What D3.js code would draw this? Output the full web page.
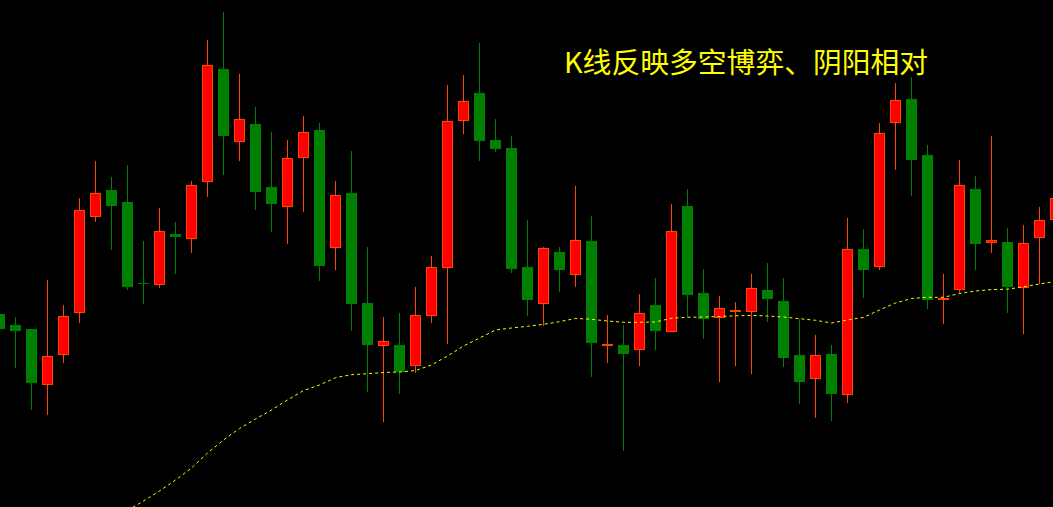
<!DOCTYPE html>
<html>
<head>
<meta charset="utf-8">
<script src="https://cdn.jsdelivr.net/npm/d3@7"></script>
<style>
  html, body { margin: 0; padding: 0; background: #000; overflow: hidden; }
  svg { display: block; }
</style>
</head>
<body>
<svg id="chart" width="1053" height="507"></svg>
<script>
// ---- data (price units) ----
const titleText = "K线反映多空博弈、阴阳相对";
const openVals  = [193,182,178,122,152,194,290,317,305,224,222,273,268,325,438,365,383,320,300,349,377,259,314,204,161,162,141,191,239,386,414,367,359,240,203,255,232,266,161,162,157,202,175,301,214,189,195,195,217,206,152,128,153,112,258,240,384,408,352,207,217,318,264,265,219,269,287];
const highVals  = [193,190,178,227,202,309,346,330,342,266,299,285,326,467,495,433,400,375,367,391,384,326,356,260,190,194,220,251,422,432,464,388,371,287,260,260,321,291,192,182,213,229,303,318,238,211,205,233,244,229,188,172,162,289,278,384,424,430,362,233,347,331,371,279,282,300,317];
const lowVals   = [178,139,97,92,144,184,285,257,217,203,219,233,254,310,332,346,297,275,263,295,226,237,176,115,85,113,134,184,163,373,346,355,234,191,181,215,220,130,144,56,141,157,175,190,168,125,141,133,185,140,103,89,86,104,209,237,337,311,198,183,214,237,254,194,173,223,282];
const closeVals = [178,176,124,151,191,297,314,301,220,223,276,270,322,442,371,388,315,303,349,375,241,312,203,162,166,135,192,240,386,406,366,358,238,207,259,237,267,164,163,153,194,176,276,212,188,199,197,219,208,149,125,152,113,258,237,374,407,347,207,209,322,263,267,220,264,287,309];
const maVals    = [null,null,null,null,null,null,null,null,-3.5,6,16,27,39,54,67,78.5,88,97,107,116.5,122,129.3,132.3,133.3,134.5,135,136.5,142,151,161,169,177,179,180.7,182.7,185.3,188.6,187.7,186,184.7,184.7,185,188.8,189.7,190,190.5,191.2,191.6,191,190,188.3,186.7,184,187,189.6,197,204,208.5,209.7,209.7,213.5,216,217.4,217.8,220.2,223,225.5];

const W = 1053, H = 507;
const upFill = "#ff0000", upStroke = "#ff4500", downColor = "#008000";

const candles = openVals.map((o, i) => ({
  i, open: o, high: highVals[i], low: lowVals[i], close: closeVals[i]
}));

const svg = d3.select("#chart");
svg.append("rect").attr("width", W).attr("height", H).attr("fill", "#000");

const x = d3.scaleLinear().domain([0, candles.length - 1]).range([-0.5, -0.5 + 16 * (candles.length - 1)]);
const y = d3.scaleLinear().domain([0, 507]).range([507, 0]);

// wicks
svg.append("g").attr("shape-rendering", "crispEdges")
  .selectAll("line").data(candles).join("line")
  .attr("x1", d => x(d.i)).attr("x2", d => x(d.i))
  .attr("y1", d => y(d.high)).attr("y2", d => y(d.low))
  .attr("stroke", d => d.close >= d.open ? upStroke : downColor)
  .attr("stroke-width", 1);

// bodies
const bodies = svg.append("g").attr("shape-rendering", "crispEdges");
bodies.selectAll("rect.up").data(candles.filter(d => d.close >= d.open)).join("rect")
  .attr("class", "up")
  .attr("x", d => x(d.i) - 5)
  .attr("width", 10)
  .attr("y", d => y(d.close) + 0.5)
  .attr("height", d => Math.max(0.5, y(d.open) - y(d.close) - 1))
  .attr("fill", upFill)
  .attr("stroke", upStroke)
  .attr("stroke-width", 1);
bodies.selectAll("rect.down").data(candles.filter(d => d.close < d.open)).join("rect")
  .attr("class", "down")
  .attr("x", d => x(d.i) - 5.5)
  .attr("width", 11)
  .attr("y", d => y(d.open))
  .attr("height", d => Math.max(1, y(d.close) - y(d.open)))
  .attr("fill", downColor);

// moving average (dotted yellow)
const ma = d3.line()
  .defined(d => d != null)
  .x((d, i) => x(i))
  .y(d => y(d));
svg.append("path")
  .datum(maVals)
  .attr("d", ma)
  .attr("fill", "none")
  .attr("stroke", "#ffff00")
  .attr("stroke-width", 1)
  .attr("stroke-dasharray", "3,3");

// title
svg.append("text")
  .attr("x", 564)
  .attr("y", 73)
  .attr("fill", "#ffff00")
  .attr("font-family", "'Noto Sans CJK SC', 'Noto Sans', sans-serif")
  .attr("font-size", 28.8)
  .text(titleText);
</script>
</body>
</html>
